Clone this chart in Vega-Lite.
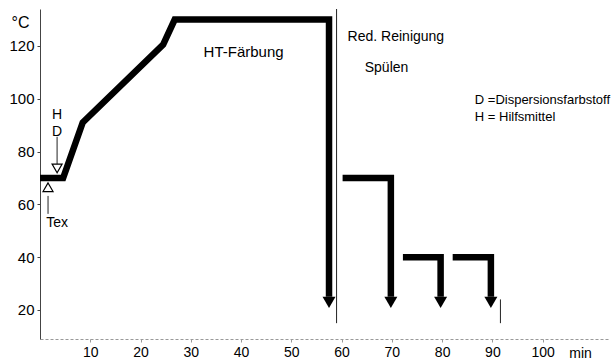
{
  "$schema": "https://vega.github.io/schema/vega-lite/v6.json",
  "width": 568,
  "height": 330,
  "autosize": {"type": "none"},
  "padding": {"left": 40, "top": 9, "right": 3, "bottom": 24},
  "background": "white",
  "config": {"view": {"stroke": null}, "font": "Liberation Sans"},
  "datasets": {
    "profile": [
      {"seg": 1, "i": 1, "t": 0, "T": 70},
      {"seg": 1, "i": 2, "t": 4.6, "T": 70},
      {"seg": 1, "i": 3, "t": 8.5, "T": 91},
      {"seg": 1, "i": 4, "t": 24.5, "T": 120.5},
      {"seg": 1, "i": 5, "t": 26.8, "T": 130},
      {"seg": 1, "i": 6, "t": 57.5, "T": 130},
      {"seg": 1, "i": 7, "t": 57.5, "T": 25},
      {"seg": 2, "i": 1, "t": 60.2, "T": 70},
      {"seg": 2, "i": 2, "t": 69.8, "T": 70},
      {"seg": 2, "i": 3, "t": 69.8, "T": 25},
      {"seg": 3, "i": 1, "t": 72.2, "T": 40},
      {"seg": 3, "i": 2, "t": 79.7, "T": 40},
      {"seg": 3, "i": 3, "t": 79.7, "T": 25},
      {"seg": 4, "i": 1, "t": 82.1, "T": 40},
      {"seg": 4, "i": 2, "t": 89.7, "T": 40},
      {"seg": 4, "i": 3, "t": 89.7, "T": 25}
    ],
    "arrows": [
      {"t": 57.5, "T": 22.9},
      {"t": 69.8, "T": 22.9},
      {"t": 79.7, "T": 22.9},
      {"t": 89.7, "T": 22.9}
    ],
    "rules": [
      {"t": 59, "T": 134, "T2": 15},
      {"t": 91.6, "T": 24, "T2": 15},
      {"t": 3.4, "T": 85.6, "T2": 75.2},
      {"t": 1.6, "T": 63.2, "T2": 56.4}
    ],
    "downMarks": [{"t": 3.4, "T": 73.6}],
    "upMarks": [{"t": 1.6, "T": 66.5}],
    "smallLabels": [
      {"t": 3.4, "T": 94, "label": "H"},
      {"t": 3.4, "T": 87.5, "label": "D"},
      {"t": 3.4, "T": 53, "label": "Tex"}
    ],
    "phase": [{"t": 40.5, "T": 117.8, "label": "HT-Färbung"}],
    "phase2": [
      {"t": 61.2, "T": 123.3, "label": "Red. Reinigung"},
      {"t": 64.6, "T": 111.7, "label": "Spülen"}
    ],
    "legendText": [
      {"t": 86.5, "T": 99.6, "label": "D =Dispersionsfarbstoff"},
      {"t": 86.5, "T": 93.2, "label": "H = Hilfsmittel"}
    ]
  },
  "layer": [
    {
      "data": {"name": "rules"},
      "mark": {"type": "rule", "color": "#222", "strokeWidth": 1},
      "encoding": {
        "x": {
          "field": "t", "type": "quantitative",
          "scale": {"domain": [0, 113], "nice": false, "zero": false},
          "axis": {
            "values": [10, 20, 30, 40, 50, 60, 70, 80, 90, 100],
            "grid": false, "tickSize": 3, "labelPadding": 3,
            "labelFontSize": 14, "labelColor": "black",
            "domainColor": "#999", "domainDash": [3, 2], "tickColor": "#999",
            "title": "min", "titleX": 540, "titleY": 14,
            "titleAlign": "center", "titleBaseline": "middle",
            "titleFontSize": 14, "titleFontWeight": "normal", "titleColor": "black"
          }
        },
        "y": {
          "field": "T", "type": "quantitative",
          "scale": {"domain": [9, 134], "nice": false, "zero": false},
          "axis": {
            "values": [20, 40, 60, 80, 100, 120],
            "grid": false, "tickSize": 3, "labelPadding": 3,
            "labelFontSize": 15, "labelColor": "black",
            "domainColor": "#444", "tickColor": "#444",
            "title": "°C", "titleAngle": 0, "titleX": -20, "titleY": 13,
            "titleAlign": "center", "titleBaseline": "middle",
            "titleFontSize": 16, "titleFontWeight": "normal", "titleColor": "black"
          }
        },
        "y2": {"field": "T2"}
      }
    },
    {
      "data": {"name": "profile"},
      "mark": {"type": "line", "color": "black", "strokeWidth": 6.5, "strokeJoin": "miter", "strokeCap": "butt"},
      "encoding": {
        "x": {"field": "t", "type": "quantitative"},
        "y": {"field": "T", "type": "quantitative"},
        "detail": {"field": "seg"},
        "order": {"field": "i"}
      }
    },
    {
      "data": {"name": "arrows"},
      "mark": {"type": "point", "shape": "triangle-down", "filled": true, "color": "black", "size": 169, "opacity": 1},
      "encoding": {
        "x": {"field": "t", "type": "quantitative"},
        "y": {"field": "T", "type": "quantitative"}
      }
    },
    {
      "data": {"name": "downMarks"},
      "mark": {"type": "point", "shape": "triangle-down", "filled": true, "fill": "white", "stroke": "black", "strokeWidth": 1.2, "size": 100, "opacity": 1},
      "encoding": {
        "x": {"field": "t", "type": "quantitative"},
        "y": {"field": "T", "type": "quantitative"}
      }
    },
    {
      "data": {"name": "upMarks"},
      "mark": {"type": "point", "shape": "triangle-up", "filled": true, "fill": "white", "stroke": "black", "strokeWidth": 1.2, "size": 100, "opacity": 1},
      "encoding": {
        "x": {"field": "t", "type": "quantitative"},
        "y": {"field": "T", "type": "quantitative"}
      }
    },
    {
      "data": {"name": "smallLabels"},
      "mark": {"type": "text", "fontSize": 14, "align": "center", "baseline": "middle", "color": "black"},
      "encoding": {
        "x": {"field": "t", "type": "quantitative"},
        "y": {"field": "T", "type": "quantitative"},
        "text": {"field": "label"}
      }
    },
    {
      "data": {"name": "phase"},
      "mark": {"type": "text", "fontSize": 15, "align": "center", "baseline": "middle", "color": "black"},
      "encoding": {
        "x": {"field": "t", "type": "quantitative"},
        "y": {"field": "T", "type": "quantitative"},
        "text": {"field": "label"}
      }
    },
    {
      "data": {"name": "phase2"},
      "mark": {"type": "text", "fontSize": 14, "align": "left", "baseline": "middle", "color": "black"},
      "encoding": {
        "x": {"field": "t", "type": "quantitative"},
        "y": {"field": "T", "type": "quantitative"},
        "text": {"field": "label"}
      }
    },
    {
      "data": {"name": "legendText"},
      "mark": {"type": "text", "fontSize": 13, "align": "left", "baseline": "middle", "color": "black"},
      "encoding": {
        "x": {"field": "t", "type": "quantitative"},
        "y": {"field": "T", "type": "quantitative"},
        "text": {"field": "label"}
      }
    }
  ]
}
